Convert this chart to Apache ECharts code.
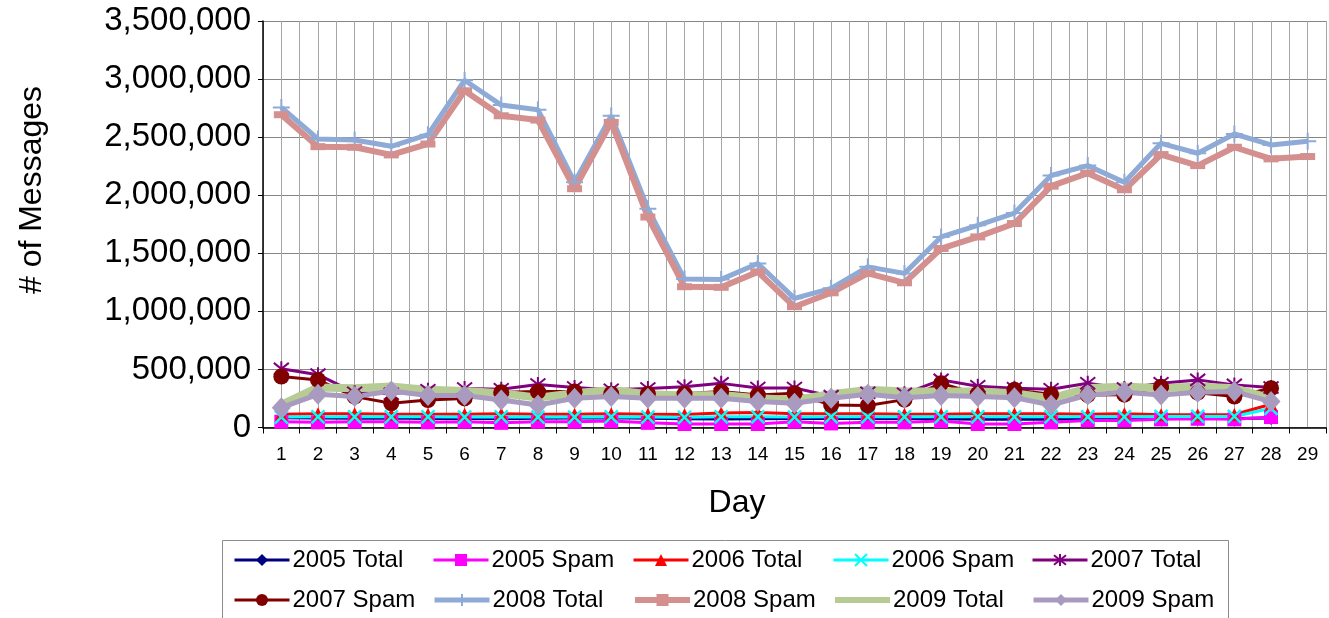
<!DOCTYPE html>
<html>
<head>
<meta charset="utf-8">
<script src="https://cdn.jsdelivr.net/npm/echarts@6/dist/echarts.min.js"></script>
<style>
html,body{margin:0;padding:0;background:#fff;}
#chart{width:1329px;height:618px;}
</style>
</head>
<body>
<div id="chart"></div>
<script>
const days = [1,2,3,4,5,6,7,8,9,10,11,12,13,14,15,16,17,18,19,20,21,22,23,24,25,26,27,28,29];
const yTicks = [0,500000,1000000,1500000,2000000,2500000,3000000,3500000];

const total2005 = [85000,82000,80000,82000,78000,80000,76000,80000,82000,84000,80000,75000,74000,76000,78000,80000,78000,80000,76000,70000,70000,72000,76000,78000,80000,80000,78000,82000];
const spam2005  = [50000,45000,50000,50000,45000,50000,40000,50000,50000,55000,40000,30000,30000,30000,50000,35000,45000,45000,55000,30000,30000,45000,60000,60000,70000,75000,70000,90000];
const total2006 = [115000,118000,118000,115000,115000,115000,118000,115000,115000,118000,115000,112000,125000,130000,118000,118000,118000,115000,115000,118000,118000,118000,115000,118000,110000,110000,112000,200000];
const spam2006  = [90000,92000,92000,92000,92000,90000,92000,90000,90000,92000,90000,88000,92000,92000,90000,92000,92000,92000,92000,92000,92000,92000,92000,92000,95000,95000,95000,165000];
const total2007 = [505000,455000,300000,290000,320000,335000,330000,370000,345000,325000,335000,350000,380000,340000,340000,270000,300000,290000,410000,355000,338000,329000,381000,335000,381000,410000,367000,344000];
const spam2007  = [439000,410000,266000,208000,237000,250000,303000,309000,310000,290000,290000,290000,310000,280000,295000,194000,190000,240000,380000,290000,324000,286000,280000,283000,350000,300000,266000,338000];
const total2008 = [2756000,2484000,2476000,2421000,2521000,2990000,2776000,2736000,2112000,2684000,1884000,1278000,1275000,1412000,1112000,1198000,1383000,1327000,1641000,1741000,1846000,2170000,2255000,2112000,2447000,2361000,2527000,2433000,2464000];
const spam2008  = [2693000,2418000,2413000,2347000,2441000,2899000,2684000,2647000,2056000,2627000,1812000,1212000,1207000,1340000,1040000,1160000,1327000,1246000,1541000,1641000,1756000,2078000,2190000,2047000,2350000,2255000,2413000,2313000,2333000];
const total2009 = [194000,345000,338000,353000,324000,315000,295000,257000,295000,324000,286000,275000,280000,251000,237000,286000,324000,309000,309000,309000,295000,251000,338000,353000,338000,353000,338000,251000];
const spam2009  = [171000,286000,266000,315000,275000,275000,237000,194000,251000,266000,251000,251000,251000,223000,208000,251000,286000,257000,275000,266000,257000,194000,280000,303000,280000,303000,309000,223000];

const FONT = 'Liberation Sans, Arial, sans-serif';
const pairs = arr => arr.map((v, i) => [days[i], v]);

const X_PATH = 'path://M0,0L10,10M10,0L0,10';
const STAR_PATH = 'path://M1,1L9,9M9,1L1,9M5,0L5,10';
const PLUS_PATH = 'path://M5,0L5,10M0,5L10,5';

function strokeSym(color, w) {
  return { color: 'rgba(0,0,0,0)', borderColor: color, borderWidth: w };
}

const seriesDefs = [
  { name: '2005 Total', data: total2005, color: '#000080', width: 3, symbol: 'diamond', size: [11, 14], lw: 3 },
  { name: '2005 Spam',  data: spam2005,  color: '#FF00FF', width: 3, symbol: 'rect', size: 14, lw: 3 },
  { name: '2006 Total', data: total2006, color: '#FF0000', width: 3, symbol: 'triangle', size: 13, lw: 3 },
  { name: '2006 Spam',  data: spam2006,  color: '#00FFFF', width: 3, symbol: X_PATH, size: 13, stroke: 2.5, lw: 3 },
  { name: '2007 Total', data: total2007, color: '#800080', width: 3, symbol: STAR_PATH, size: 15, stroke: 2, lw: 3 },
  { name: '2007 Spam',  data: spam2007,  color: '#800000', width: 3, symbol: 'circle', size: 16, lw: 3 },
  { name: '2008 Total', data: total2008, color: '#8EAAD6', width: 5, symbol: PLUS_PATH, size: 17, stroke: 2, lw: 5 },
  { name: '2008 Spam',  data: spam2008,  color: '#D48F8F', width: 6, symbol: 'rect', size: [15, 7], lw: 6 },
  { name: '2009 Total', data: total2009, color: '#B7CB94', width: 8, symbol: 'none', size: 0, lw: 6 },
  { name: '2009 Spam',  data: spam2009,  color: '#A99BBF', width: 5, symbol: 'diamond', size: [19, 21], lw: 5 }
];

const series = seriesDefs.map(d => ({
  name: d.name,
  type: 'line',
  xAxisIndex: 0,
  yAxisIndex: 0,
  data: pairs(d.data),
  symbol: d.symbol,
  symbolSize: d.size,
  showSymbol: d.symbol !== 'none',
  lineStyle: { color: d.color, width: d.width },
  itemStyle: d.stroke ? strokeSym(d.color, d.stroke) : { color: d.color },
  color: d.color,
  emphasis: { disabled: true }
}));

// legend: two rows of five items
const colX = [233, 432, 632, 832, 1031];
const rowY = [548, 588];
const legends = seriesDefs.map((d, i) => {
  const lg = {
    data: [d.name],
    left: colX[i % 5],
    top: rowY[Math.floor(i / 5)],
    padding: 0,
    itemWidth: 55,
    itemHeight: 15,
    itemGap: 0,
    selectedMode: false,
    lineStyle: { width: d.lw },
    textStyle: { fontSize: 24, color: '#000', fontFamily: FONT, padding: [0, 0, 0, -2] }
  };
  if (d.symbol === 'none') {
    lg.itemStyle = { color: 'rgba(0,0,0,0)', borderWidth: 0, opacity: 0 };
    lg.lineStyle = { width: d.lw, color: d.color, opacity: 1 };
  }
  return lg;
});

const chart = echarts.init(document.getElementById('chart'), null, { renderer: 'canvas' });
chart.setOption({
  animation: false,
  backgroundColor: '#fff',
  textStyle: { fontFamily: FONT },
  grid: { left: 263, top: 21, width: 1070, height: 406.5, containLabel: false },
  xAxis: [
    {
      type: 'value', min: 0.5, max: 29.5, interval: 0.5,
      axisLine: { show: true, lineStyle: { color: '#000', width: 1.5 } },
      axisTick: { show: false },
      splitLine: { show: true, lineStyle: { color: '#a6a6a6', width: 1 } },
      axisLabel: {
        margin: 18, fontSize: 19, color: '#000', fontFamily: FONT,
        formatter: v => (Number.isInteger(v) && days.indexOf(v) >= 0) ? String(v) : ''
      }
    },
    {
      type: 'value', min: 0.5, max: 29.5, interval: 1, position: 'bottom',
      axisLine: { show: false },
      axisTick: { show: true, length: 6, lineStyle: { color: '#000', width: 1 } },
      splitLine: { show: false },
      axisLabel: { show: false }
    }
  ],
  yAxis: {
    type: 'value', min: yTicks[0], max: yTicks[yTicks.length - 1], interval: yTicks[1] - yTicks[0],
    axisLine: { show: true, lineStyle: { color: '#000', width: 1.5 } },
    axisTick: { show: true, length: 5, lineStyle: { color: '#000' } },
    splitLine: { show: true, lineStyle: { color: '#868686', width: 1.2 } },
    axisLabel: {
      margin: 12, fontSize: 33, color: '#000', fontFamily: FONT,
      formatter: v => v.toLocaleString('en-US')
    }
  },
  legend: legends,
  graphic: [
    {
      type: 'rect', z: -1,
      shape: { x: 222.5, y: 540.5, width: 1006, height: 100 },
      style: { fill: '#fff', stroke: '#8c8c8c', lineWidth: 1 }
    },
    {
      type: 'text', x: 32, y: 190, rotation: Math.PI / 2,
      style: { text: '# of Messages', fontSize: 32, fontFamily: FONT, fill: '#000', align: 'center', verticalAlign: 'middle' }
    },
    {
      type: 'text', x: 737, y: 503,
      style: { text: 'Day', fontSize: 32, fontFamily: FONT, fill: '#000', align: 'center', verticalAlign: 'middle' }
    }
  ],
  series: series
});
</script>
</body>
</html>
